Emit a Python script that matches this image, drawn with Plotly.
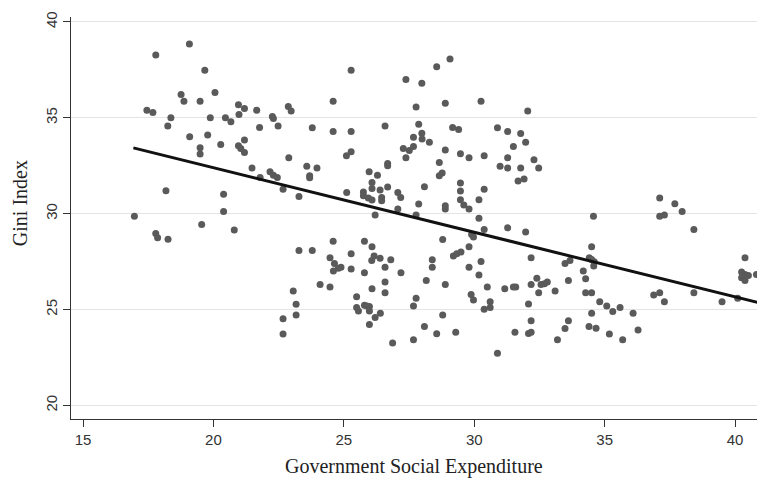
import plotly.graph_objects as go

gse = [
    19.08, 17.79, 19.67, 20.06, 18.76, 18.87, 19.49, 17.45, 17.68, 20.96, 21.19, 20.98, 21.66, 22.87, 22.98,
    22.26, 22.30, 18.37, 18.25, 19.88, 20.46, 20.67, 21.77, 22.48, 19.09, 19.78, 20.28, 19.49, 19.49, 20.96,
    21.05, 21.19, 21.19, 22.89, 21.48, 22.17, 21.79, 22.45, 22.30, 22.67, 23.28, 18.18, 20.39, 20.39, 16.97,
    17.79, 17.86, 18.26, 19.55, 20.80, 23.28, 23.06, 23.17, 23.17, 22.67, 22.67,
    25.28, 29.07, 28.56, 27.38, 27.99, 24.59, 27.77, 28.89, 30.26, 32.05, 23.79, 24.59, 25.28, 26.58, 27.87,
    27.99, 27.67, 28.00, 28.28, 29.17, 29.40, 30.89, 31.28, 31.78, 31.97, 31.50, 27.28, 27.51, 27.67, 27.38,
    28.89, 29.47, 29.80, 30.38, 25.10, 25.28, 31.28, 30.99, 31.28, 31.78, 31.68, 31.91, 23.58, 23.97, 23.69,
    23.69, 26.68, 26.68, 25.97, 26.29, 28.66, 28.77, 28.66, 26.08, 26.08, 26.39, 26.68, 28.09, 29.47, 29.47,
    30.38, 25.11, 25.75, 25.75, 25.94, 26.08, 26.45, 26.45, 27.07, 27.18, 29.47, 29.60, 29.80, 30.18, 27.87,
    28.89, 28.89, 26.20, 27.07, 27.77, 30.18,
    30.38, 29.90, 29.97, 31.28, 31.97, 24.59, 25.79, 26.08, 28.79, 29.80, 23.79, 24.47, 24.64, 24.79, 24.60,
    24.89, 25.28, 25.28, 26.07, 26.16, 26.39, 26.80, 25.79, 26.58, 27.19, 28.39, 28.39, 29.20, 29.33, 29.49,
    30.26, 29.80, 30.18, 24.09, 24.47, 26.58, 26.58, 26.08, 28.16, 28.89, 30.50, 31.17, 31.50, 31.59, 25.49,
    25.49, 25.56, 25.79, 25.88, 25.98, 25.98, 26.20, 26.40, 25.98, 27.77, 27.67, 28.79, 28.09, 28.56, 29.29,
    27.67, 26.87, 30.89, 29.88, 29.97, 30.38, 30.61, 30.61, 31.56,
    32.29, 32.47, 37.11, 37.69, 37.97, 34.57, 37.11, 37.29,
    38.42, 34.50, 32.18, 33.48, 33.67, 34.41, 34.50, 34.60, 34.58, 34.18, 34.27, 33.61, 32.40, 32.18, 32.56,
    32.69, 32.80, 32.47, 33.10, 34.27, 34.50, 32.08, 32.18, 32.08, 32.18, 33.61, 33.48, 33.19, 34.81, 35.08,
    35.31, 35.59, 34.50, 34.40, 34.67, 35.18, 35.69, 36.09, 36.28, 36.88, 37.11, 37.29, 38.42, 39.50, 40.10,
    40.38, 40.25, 40.38, 40.51, 40.25, 40.38, 40.82,
]

gini = [
    38.85, 38.28, 37.48, 36.32, 36.22, 35.87, 35.87, 35.40, 35.28, 35.68, 35.49, 35.17, 35.40, 35.59, 35.36,
    35.07, 34.96, 35.00, 34.58, 35.00, 35.00, 34.79, 34.50, 34.58, 34.01, 34.11, 33.61, 33.44, 33.11, 33.54,
    33.40, 33.84, 33.19, 32.92, 32.38, 32.19, 31.89, 31.89, 32.01, 31.28, 30.90, 31.20, 31.01, 30.12, 29.86,
    28.96, 28.75, 28.67, 29.43, 29.15, 28.08, 25.97, 25.28, 24.71, 24.52, 23.72,
    37.48, 38.07, 37.67, 37.00, 36.81, 35.87, 35.57, 35.76, 35.87, 35.36, 34.48, 34.29, 34.29, 34.58, 34.67,
    34.20, 33.99, 33.89, 33.72, 34.50, 34.39, 34.48, 34.29, 34.18, 33.72, 33.51, 33.40, 33.30, 33.51, 32.92,
    33.32, 33.13, 32.92, 33.02, 33.02, 33.23, 32.92, 32.48, 32.38, 32.38, 31.70, 31.81, 32.48, 32.38, 31.98,
    31.88, 32.62, 32.50, 32.19, 32.00, 32.67, 32.12, 31.98, 31.63, 31.32, 31.23, 31.39, 31.41, 31.60, 31.18,
    31.28, 31.11, 31.13, 30.94, 30.82, 30.71, 30.85, 30.68, 31.11, 30.85, 30.73, 30.45, 30.24, 30.73, 30.50,
    30.42, 30.24, 29.93, 30.24, 29.93, 29.76,
    29.17, 28.91, 28.79, 29.26, 29.05, 28.56, 28.56, 28.27, 28.65, 28.27, 28.08, 27.70, 27.40, 27.15, 27.01,
    27.20, 27.91, 27.11, 27.56, 27.79, 27.68, 27.60, 26.92, 27.20, 26.92, 27.60, 27.20, 27.79, 27.91, 28.00,
    27.51, 27.20, 26.80, 26.31, 26.18, 26.44, 25.88, 26.09, 26.52, 26.31, 26.18, 26.09, 26.18, 26.18, 25.67,
    25.10, 24.93, 25.22, 25.19, 25.16, 24.93, 24.58, 24.81, 24.22, 25.59, 25.19, 24.71, 24.12, 23.74, 23.82,
    23.43, 23.25, 22.72, 25.78, 25.50, 25.02, 25.40, 25.10, 23.81,
    32.81, 32.38, 30.82, 30.52, 30.12, 29.86, 29.86, 29.93,
    29.17, 28.27, 27.70, 27.40, 27.56, 27.70, 27.61, 27.49, 27.27, 27.01, 26.61, 26.52, 26.63, 26.31, 26.31,
    26.35, 26.44, 25.88, 25.97, 25.88, 25.88, 25.29, 24.41, 23.75, 23.81, 24.41, 24.01, 23.43, 25.40, 25.19,
    24.90, 25.10, 24.81, 24.12, 24.03, 23.72, 23.43, 24.81, 23.93, 25.76, 25.88, 25.40, 25.88, 25.40, 25.59,
    27.70, 26.96, 26.83, 26.78, 26.66, 26.52, 26.83,
]

x_ticks = [15, 20, 25, 30, 35, 40]
y_ticks = [20, 25, 30, 35, 40]

# fitted line
fit_intercept = 39.14
fit_slope = -0.337
fit_x = [16.93, 41.0]
fit_y = [fit_intercept + fit_slope * v for v in fit_x]

fig = go.Figure()
fig.add_trace(go.Scatter(
    x=gse, y=gini, mode="markers",
    marker=dict(size=7, color="#5a5a5a", line=dict(width=0)),
    hoverinfo="skip",
))
fig.add_trace(go.Scatter(
    x=fit_x, y=fit_y, mode="lines",
    line=dict(color="#111111", width=3),
    hoverinfo="skip",
))

tick_font = dict(family="Liberation Sans, Arial, sans-serif", size=15, color="#333333")
title_font = dict(family="Liberation Serif, Times New Roman, serif", size=20, color="#222222")

fig.update_layout(
    width=757, height=483,
    margin=dict(l=71, r=0, t=17, b=64, autoexpand=False),
    plot_bgcolor="white", paper_bgcolor="white",
    showlegend=False,
    xaxis=dict(
        range=[14.54, 40.84], tickvals=x_ticks, ticktext=[str(v) for v in x_ticks],
        showgrid=False, zeroline=False, showline=True, linecolor="#333333", linewidth=1,
        ticks="outside", ticklen=7, tickcolor="#333333", tickwidth=1, tickfont=tick_font,
        automargin=False,
    ),
    yaxis=dict(
        range=[19.29, 40.26], tickvals=y_ticks, ticktext=[str(v) for v in y_ticks],
        showgrid=True, gridcolor="#e4e4e4", gridwidth=1, zeroline=False,
        showline=True, linecolor="#333333", linewidth=1,
        ticks="outside", ticklen=7, tickcolor="#333333", tickwidth=1,
        tickangle=-90, tickfont=tick_font, automargin=False,
    ),
    annotations=[
        dict(text="Government Social Expenditure", xref="paper", yref="paper",
             x=0.5, y=-0.119, xanchor="center", yanchor="middle",
             showarrow=False, font=title_font),
        dict(text="Gini Index", xref="paper", yref="paper",
             x=-0.0743, y=0.537, xanchor="center", yanchor="middle", textangle=-90,
             showarrow=False, font=title_font),
    ],
)

fig.write_html(
    "out.html",
    config={"displayModeBar": False, "staticPlot": True},
    post_script="document.body.style.margin='0';document.body.style.overflow='hidden';",
)
